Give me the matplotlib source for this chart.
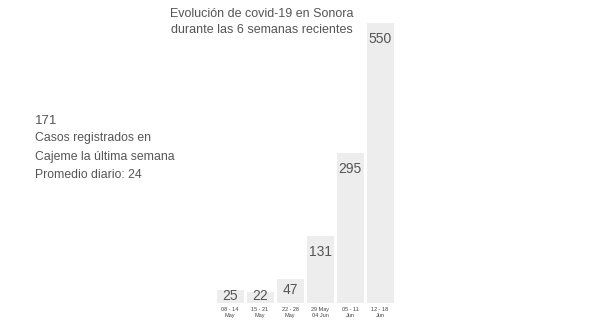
import matplotlib.pyplot as plt
import numpy as np

plt.rcParams['font.family'] = ['Liberation Sans', 'DejaVu Sans']

weeks = ["08 - 14\nMay", "15 - 21\nMay", "22 - 28\nMay", "29 May\n04 Jun", "05 - 11\nJun", "12 - 18\nJun"]
cases = [25, 22, 47, 131, 295, 550]

W, H = 593, 329
fig = plt.figure(figsize=(W / 100, H / 100), dpi=100)
fig.patch.set_facecolor("white")

# bars area in pixels: x 215..395, baseline at y=303, 550 at y=23
ax = fig.add_axes([215 / W, (H - 303) / H, 180 / W, 280 / H])
x = np.arange(len(cases))
ax.bar(x, cases, width=0.9, color="#ededed")
ax.set_xlim(-0.5, 5.5)
ax.set_ylim(0, 550)
for s in ax.spines.values():
    s.set_visible(False)
ax.set_yticks([])
ax.set_xticks(x)
ax.set_xticklabels(weeks, fontsize=4, color="#444444", linespacing=1.1)
ax.tick_params(axis="x", length=0, pad=3)

px = 550 / 280
for xi, v in zip(x, cases):
    h_px = v / px
    off = 16 if h_px > 30 else h_px / 2 - 1
    ax.text(xi, v - off * px, str(v), ha="center", va="center",
            fontsize=10, color="#555555")

txt = "#555555"
fig.text(262 / W, 1 - 22 / H, "Evolución de covid-19 en Sonora\ndurante las 6 semanas recientes",
         ha="center", va="center", fontsize=9, color=txt, linespacing=1.4)
fig.text(35 / W, 1 - 121 / H, "171", ha="left", va="center", fontsize=9.5, color=txt)
fig.text(35 / W, 1 - 138 / H, "Casos registrados en", ha="left", va="center", fontsize=8.8, color=txt)
fig.text(35 / W, 1 - 157 / H, "Cajeme la última semana", ha="left", va="center", fontsize=8.8, color=txt)
fig.text(35 / W, 1 - 175 / H, "Promedio diario: 24", ha="left", va="center", fontsize=8.8, color=txt)

fig.savefig("out.png", dpi=100)
